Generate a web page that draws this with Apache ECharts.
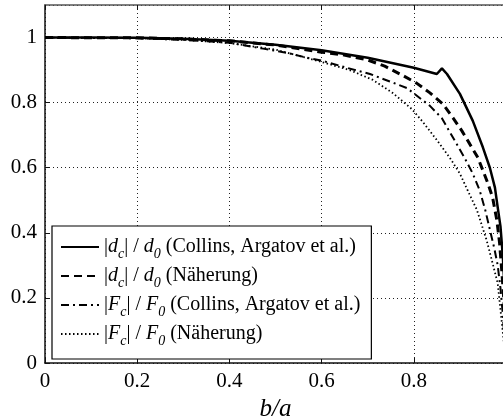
<!DOCTYPE html>
<html><head><meta charset="utf-8">
<script src="https://cdn.jsdelivr.net/npm/echarts@6/dist/echarts.min.js"></script>
<style>html,body{margin:0;padding:0;background:#fff}#c{width:503px;height:417px}</style>
</head><body><div id="c"></div>
<script>
// Data: [b/a, value]
var dcCollins = [[0,1],[0.1,1],[0.2,0.999],[0.3,0.996],[0.4,0.99],[0.5,0.978],[0.6,0.961],[0.7,0.938],[0.8,0.907],[0.85,0.888],[0.861,0.905],[0.872,0.888],[0.9,0.827],[0.928,0.744],[0.95,0.662],[0.965,0.6],[0.976,0.539],[0.982,0.478],[0.988,0.42],[0.993,0.33],[0.998,0.2],[1,0]];
var dcNaeherung = [[0,1],[0.2,0.999],[0.3,0.996],[0.4,0.99],[0.5,0.977],[0.6,0.955],[0.646,0.947],[0.698,0.932],[0.737,0.912],[0.774,0.885],[0.806,0.86],[0.835,0.83],[0.863,0.796],[0.885,0.753],[0.904,0.714],[0.921,0.674],[0.939,0.631],[0.95,0.591],[0.961,0.551],[0.971,0.508],[0.98,0.44],[0.986,0.37],[0.991,0.28],[0.996,0.18],[1,0]];
var fcCollins = [[0,1],[0.2,0.998],[0.3,0.993],[0.4,0.984],[0.473,0.966],[0.525,0.953],[0.568,0.938],[0.603,0.928],[0.655,0.907],[0.705,0.888],[0.748,0.865],[0.785,0.845],[0.835,0.79],[0.861,0.752],[0.878,0.71],[0.895,0.668],[0.911,0.628],[0.928,0.582],[0.943,0.53],[0.955,0.47],[0.965,0.41],[0.975,0.35],[0.982,0.3],[0.988,0.23],[0.993,0.15],[1,0]];
var fcNaeherung = [[0,1],[0.2,0.998],[0.3,0.993],[0.4,0.983],[0.5,0.963],[0.6,0.925],[0.661,0.9],[0.711,0.87],[0.754,0.83],[0.796,0.78],[0.82,0.74],[0.85,0.685],[0.878,0.631],[0.9,0.582],[0.917,0.53],[0.937,0.47],[0.958,0.377],[0.971,0.306],[0.982,0.245],[0.991,0.123],[1,0]];
var seriesNames = ['dcC','dcN','fcC','fcN'];
var legendTexts = {
  dcC: '|{i|d}{s|c}| / {i|d}{s|0} (Collins, Argatov et al.)',
  dcN: '|{i|d}{s|c}| / {i|d}{s|0} (Näherung)',
  fcC: '|{i|F}{s|c}| / {i|F}{s|0} (Collins, Argatov et al.)',
  fcN: '|{i|F}{s|c}| / {i|F}{s|0} (Näherung)'
};
var xTickLabels = ['0','0.2','0.4','0.6','0.8'];
var yTickLabels = ['0','0.2','0.4','0.6','0.8','1'];

var font = 'Liberation Serif';
var chart = echarts.init(document.getElementById('c'));
var grid = '#222';
function mk(name, data, type, width) {
  return {name: name, type: 'line', data: data, showSymbol: false, symbol: 'none', smooth: false,
    lineStyle: {color: '#000', width: width, type: type}, itemStyle: {color: '#000'}, z: 3};
}
function lab(list) {
  return function(v){ var s = String(Math.round(v * 10) / 10); return (Math.abs(v * 10 - Math.round(v * 10)) < 1e-6 && list.indexOf(s) >= 0) ? s : ''; };
}
chart.setOption({
  backgroundColor: '#fff',
  animation: false,
  grid: {left: 45, top: 5, width: 461, height: 358, containLabel: false, outerBoundsMode: 'none'},
  xAxis: [{
    type: 'value', min: 0, max: 1, interval: 0.2, position: 'bottom',
    name: 'b/a', nameLocation: 'middle', nameGap: 29,
    nameTextStyle: {fontFamily: font, fontStyle: 'italic', fontSize: 25, color: '#000'},
    axisLine: {show: true, lineStyle: {color: '#111', width: 1.5}},
    axisTick: {show: true, inside: true, length: 5, lineStyle: {color: '#111'}},
    axisLabel: {fontFamily: font, fontSize: 21, color: '#000', margin: 8, formatter: lab(xTickLabels)},
    splitLine: {show: true, lineStyle: {color: grid, width: 1, type: [1, 3]}}
  }, {
    type: 'value', min: 0, max: 1, interval: 0.2, position: 'top',
    axisLine: {show: true, onZero: false, lineStyle: {color: '#555', width: 1.5}},
    axisTick: {show: true, inside: true, length: 5, lineStyle: {color: '#111'}},
    axisLabel: {show: false}, splitLine: {show: false}
  }],
  yAxis: [{
    type: 'value', min: 0, max: 1.1, interval: 0.2,
    axisLine: {show: true, lineStyle: {color: '#111', width: 1.5}},
    axisTick: {show: true, inside: true, length: 5, lineStyle: {color: '#111'}},
    axisLabel: {fontFamily: font, fontSize: 21, color: '#000', margin: 8, showMaxLabel: false, formatter: lab(yTickLabels)},
    splitLine: {show: true, lineStyle: {color: grid, width: 1, type: [1, 3]}}
  }],
  legend: {
    orient: 'vertical', left: 52, top: 226,
    padding: [4, 11, 11, 8], itemGap: -2, itemWidth: 38, itemHeight: 14,
    backgroundColor: '#fff', borderColor: '#000', borderWidth: 1.2,
    itemStyle: {color: 'rgba(0,0,0,0)', borderWidth: 0, opacity: 0},
    data: seriesNames,
    formatter: function(n){ return legendTexts[n]; },
    textStyle: {fontFamily: font, fontSize: 20, color: '#000', lineHeight: 28,
      rich: {
        i: {fontFamily: font, fontSize: 20, fontStyle: 'italic', color: '#000', lineHeight: 28},
        s: {fontFamily: font, fontSize: 14, fontStyle: 'italic', color: '#000', verticalAlign: 'bottom', padding: [17, 0, 0, 0], lineHeight: 11}
      }}
  },
  series: [
    mk('dcC', dcCollins, 'solid', 2.5),
    mk('dcN', dcNaeherung, [8, 5], 3),
    mk('fcC', fcCollins, [8, 4, 2, 4], 2),
    mk('fcN', fcNaeherung, [1.5, 2.5], 1.8)
  ]
});
</script></body></html>
